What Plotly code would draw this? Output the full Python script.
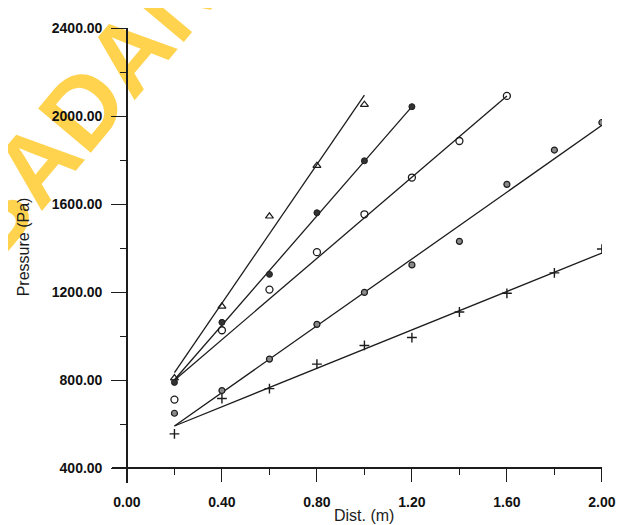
import plotly.graph_objects as go

# ---- data ----
tri_x = [0.2, 0.4, 0.6, 0.8, 1.0]
tri_y = [810, 1136, 1545, 1775, 2052]
filled_x = [0.2, 0.4, 0.6, 0.8, 1.0, 1.2]
filled_y = [790, 1063, 1281, 1561, 1797, 2043]
open_x = [0.2, 0.4, 0.6, 0.8, 1.0, 1.2, 1.4, 1.6]
open_y = [712, 1027, 1212, 1382, 1554, 1721, 1887, 2092]
dot_x = [0.2, 0.4, 0.6, 0.8, 1.0, 1.2, 1.4, 1.6, 1.8, 2.0]
dot_y = [650, 753, 896, 1054, 1199, 1324, 1431, 1690, 1846, 1971]
plus_x = [0.2, 0.4, 0.6, 0.8, 1.0, 1.2, 1.4, 1.6, 1.8, 2.0]
plus_y = [556, 717, 762, 873, 958, 994, 1110, 1195, 1288, 1396]

# fitted lines (start, end)
tri_fit_x, tri_fit_y = [0.2, 1.0], [835, 2096]
filled_fit_x, filled_fit_y = [0.2, 1.2], [802, 2043]
open_fit_x, open_fit_y = [0.2, 1.6], [800, 2092]
dot_fit_x, dot_fit_y = [0.2, 2.0], [592, 1958]
plus_fit_x, plus_fit_y = [0.2, 2.0], [592, 1378]

x_ticks = [0.0, 0.4, 0.8, 1.2, 1.6, 2.0]
y_ticks = [400, 800, 1200, 1600, 2000, 2400]

INK = "#1c1c1c"
FONT = "Liberation Sans"

fig = go.Figure()

for fx, fy in [(tri_fit_x, tri_fit_y), (filled_fit_x, filled_fit_y),
               (open_fit_x, open_fit_y), (dot_fit_x, dot_fit_y),
               (plus_fit_x, plus_fit_y)]:
    fig.add_trace(go.Scatter(x=fx, y=fy, mode="lines",
                             line=dict(color=INK, width=1.3),
                             showlegend=False, hoverinfo="skip"))

fig.add_trace(go.Scatter(x=tri_x, y=tri_y, mode="markers", showlegend=False,
                         marker=dict(symbol="triangle-up-open", size=7,
                                     color=INK, line=dict(width=1.2, color=INK))))
fig.add_trace(go.Scatter(x=filled_x, y=filled_y, mode="markers", showlegend=False,
                         marker=dict(symbol="circle", size=6, color="#333",
                                     line=dict(width=1, color=INK))))
fig.add_trace(go.Scatter(x=open_x, y=open_y, mode="markers", showlegend=False,
                         marker=dict(symbol="circle-open", size=7,
                                     color=INK, line=dict(width=1.3, color=INK))))
fig.add_trace(go.Scatter(x=dot_x, y=dot_y, mode="markers", showlegend=False,
                         marker=dict(symbol="circle", size=6, color="#8a8a8a",
                                     line=dict(width=1.2, color=INK))))
fig.add_trace(go.Scatter(x=plus_x, y=plus_y, mode="markers", showlegend=False,
                         marker=dict(symbol="cross-thin", size=7,
                                     color=INK, line=dict(width=1.4, color=INK))))

# the page body adds an 8px offset; the figure is sized to fill the rest
OFF = 8
W, H = 628 - OFF, 525 - OFF
L, R, T, B = 112 - OFF, 25, 20 - OFF, 42
pw, ph = W - L - R, H - T - B

def px_to_paper_x(px):      # px = page pixel
    return (px - OFF - L) / pw

def px_to_paper_y(py):
    return (H - B - (py - OFF)) / ph

tickfont = dict(family=FONT, size=14, color="#111", weight="bold")

fig.update_layout(
    width=W, height=H,
    margin=dict(l=L, r=R, t=T, b=B),
    paper_bgcolor="white", plot_bgcolor="white",
    font=dict(family=FONT, color=INK),
    xaxis=dict(range=[-0.063, 2.0005], tickvals=x_ticks, tickformat=".2f",
               ticks="outside", ticklen=13, tickwidth=1.3, tickcolor=INK,
               minor=dict(dtick=0.2, tick0=0, ticks="outside", ticklen=6,
                          tickwidth=1.2, tickcolor=INK),
               showline=True, linecolor=INK, linewidth=1.5,
               showgrid=False, zeroline=False,
               anchor="free", position=px_to_paper_y(468),
               tickfont=tickfont, ticklabelstandoff=8),
    yaxis=dict(range=[333, 2400.5], tickvals=y_ticks, tickformat=".2f",
               ticks="outside", ticklen=15, tickwidth=1.3, tickcolor=INK,
               minor=dict(dtick=200, tick0=0, ticks="outside", ticklen=6,
                          tickwidth=1.2, tickcolor=INK),
               showline=True, linecolor=INK, linewidth=1.5,
               showgrid=False, zeroline=False,
               anchor="free", position=px_to_paper_x(127),
               tickfont=tickfont, ticklabelstandoff=6),
)

# axis titles
fig.add_annotation(text="Dist. (m)", xref="paper", yref="paper",
                   x=px_to_paper_x(365), y=px_to_paper_y(516),
                   showarrow=False, xanchor="center", yanchor="middle",
                   font=dict(family=FONT, size=16, color=INK))
fig.add_annotation(text="Pressure (Pa)", xref="paper", yref="paper",
                   x=px_to_paper_x(23), y=px_to_paper_y(243), textangle=-90,
                   showarrow=False, xanchor="center", yanchor="middle",
                   font=dict(family=FONT, size=16, color=INK))

# library watermark (yellow, behind everything)
cx, cy = px_to_paper_x(76), px_to_paper_y(95)
fig.add_shape(type="rect", xref="paper", yref="paper",
              x0=cx - 0.005, x1=cx + 0.005, y0=cy - 0.005, y1=cy + 0.005,
              line=dict(width=0), fillcolor="rgba(0,0,0,0)", layer="below",
              label=dict(text="BADAN", textangle=-50, textposition="middle center",
                         font=dict(family=FONT, size=100, color="#FFD34E",
                                   weight=600)))

fig.write_html("out.html")
